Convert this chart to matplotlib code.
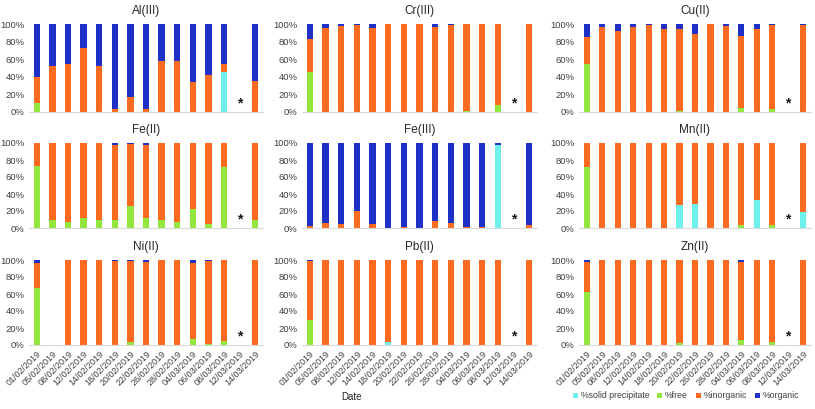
import numpy as np
import matplotlib
matplotlib.use("Agg")
import matplotlib.pyplot as plt

plt.rcParams['font.family'] = ['Liberation Sans', 'DejaVu Sans']

dates = ["01/02/2019", "05/02/2019", "08/02/2019", "12/02/2019", "14/02/2019",
         "18/02/2019", "20/02/2019", "22/02/2019", "26/02/2019", "28/02/2019",
         "04/03/2019", "06/03/2019", "08/03/2019", "12/03/2019", "14/03/2019"]
series_names = ["%solid precipitate", "%free", "%inorganic", "%organic"]
colors = ["#6EF0EC", "#93E63C", "#FF6A21", "#1E30C8"]
nan = np.nan

# Al(III)
al_solid = [0, 0, 0, 0, 0, 0, 0, 0, 0, 0, 0, 0, 46, nan, 0]
al_free = [10, 0, 0, 0, 0, 0, 0, 0, 0, 0, 0, 0, 0, nan, 0]
al_inorg = [30, 52, 54, 73, 52, 3, 17, 3, 58, 58, 34, 42, 9, nan, 35]
al_org = [60, 48, 46, 27, 48, 97, 83, 97, 42, 42, 66, 58, 45, nan, 65]

# Cr(III)
cr_solid = [0, 0, 0, 0, 0, 0, 0, 0, 0, 0, 0, 0, 0, nan, 0]
cr_free = [45, 0, 0, 0, 0, 0, 0, 0, 0, 0, 1, 0, 8, nan, 0]
cr_inorg = [38, 95, 98, 99, 96, 100, 100, 100, 97, 99, 99, 100, 92, nan, 100]
cr_org = [17, 5, 2, 1, 4, 0, 0, 0, 3, 1, 0, 0, 0, nan, 0]

# Cu(II)
cu_solid = [0, 0, 0, 0, 0, 0, 0, 0, 0, 0, 0, 0, 0, nan, 0]
cu_free = [55, 0, 0, 0, 0, 0, 1, 0, 0, 0, 4, 0, 3, nan, 0]
cu_inorg = [30, 97, 92, 97, 99, 94, 93, 89, 99.5, 98, 82, 94, 96, nan, 99]
cu_org = [15, 3, 8, 3, 1, 6, 6, 11, 0.5, 2, 14, 6, 1, nan, 1]

# Fe(II)
fe2_solid = [0, 0, 0, 0, 0, 0, 0, 0, 0, 0, 0, 0, 0, nan, 0]
fe2_free = [73, 10, 7, 12, 9, 9, 26, 12, 9, 7, 22, 5, 72, nan, 9]
fe2_inorg = [27, 90, 93, 88, 91, 89, 73, 86, 91, 93, 77.5, 95, 28, nan, 91]
fe2_org = [0, 0, 0, 0, 0, 2, 1, 2, 0, 0, 0.5, 0, 0, nan, 0]

# Fe(III)
fe3_solid = [0, 0, 0, 0, 0, 0, 0, 0, 0, 0, 0, 0, 98, nan, 0]
fe3_free = [0, 0, 0, 0, 0, 0, 0, 0, 0, 0, 0, 0, 0, nan, 0]
fe3_inorg = [2, 6, 5, 20, 5, 0, 1, 0, 8, 6, 1, 1, 0, nan, 3]
fe3_org = [98, 94, 95, 80, 95, 100, 99, 100, 92, 94, 99, 99, 2, nan, 97]

# Mn(II)
mn_solid = [0, 0, 0, 0, 0, 0, 27, 28, 0, 0, 0, 33, 0, nan, 19]
mn_free = [72, 0, 0, 0, 0, 0, 0, 0, 0, 0, 3, 0, 3, nan, 0]
mn_inorg = [28, 100, 100, 100, 100, 100, 73, 72, 100, 100, 97, 67, 97, nan, 81]
mn_org = [0, 0, 0, 0, 0, 0, 0, 0, 0, 0, 0, 0, 0, nan, 0]

# Ni(II)
ni_solid = [0, nan, 0, 0, 0, 0, 0, 0, 0, 0, 0, 0, 0, nan, 0]
ni_free = [67, nan, 0, 0, 0, 0, 3, 0.5, 0, 0, 7, 1, 5, nan, 0]
ni_inorg = [30, nan, 100, 100, 100, 98.5, 95.5, 97.5, 100, 100, 90, 97.5, 95, nan, 100]
ni_org = [3, nan, 0, 0, 0, 1.5, 1.5, 2, 0, 0, 3, 1.5, 0, nan, 0]

# Pb(II)
pb_solid = [0, 0, 0, 0, 0, 3, 0, 0, 0, 0, 0, 0, 0, nan, 0]
pb_free = [30, 0, 0, 0, 0, 0, 0, 0, 0, 0, 0, 0, 0, nan, 0]
pb_inorg = [68.5, 100, 100, 100, 100, 97, 100, 100, 100, 100, 100, 100, 100, nan, 100]
pb_org = [1.5, 0, 0, 0, 0, 0, 0, 0, 0, 0, 0, 0, 0, nan, 0]

# Zn(II)
zn_solid = [0, 0, 0, 0, 0, 0, 0, 0, 0, 0, 0, 0, 0, nan, 0]
zn_free = [62, 0, 0, 0, 0, 0, 2, 0, 0, 0, 6, 0, 4, nan, 0]
zn_inorg = [36, 100, 100, 100, 100, 100, 97.5, 99.5, 100, 100, 92, 99.5, 96, nan, 100]
zn_org = [2, 0, 0, 0, 0, 0, 0.5, 0.5, 0, 0, 2, 0.5, 0, nan, 0]

panels = [
    ("Al(III)", [al_solid, al_free, al_inorg, al_org]),
    ("Cr(III)", [cr_solid, cr_free, cr_inorg, cr_org]),
    ("Cu(II)", [cu_solid, cu_free, cu_inorg, cu_org]),
    ("Fe(II)", [fe2_solid, fe2_free, fe2_inorg, fe2_org]),
    ("Fe(III)", [fe3_solid, fe3_free, fe3_inorg, fe3_org]),
    ("Mn(II)", [mn_solid, mn_free, mn_inorg, mn_org]),
    ("Ni(II)", [ni_solid, ni_free, ni_inorg, ni_org]),
    ("Pb(II)", [pb_solid, pb_free, pb_inorg, pb_org]),
    ("Zn(II)", [zn_solid, zn_free, zn_inorg, zn_org]),
]
missing_index = 13  # 12/03/2019, marked with asterisk

W, H = 815, 409
fig = plt.figure(figsize=(W / 100, H / 100), dpi=100)

col_x = [(29, 263), (302, 537), (579, 811)]
row_y = [(24, 112), (143, 228), (260, 345)]

x = np.arange(len(dates))
tick_color = "#404040"
handles = None
for k, (title, series) in enumerate(panels):
    r, c = divmod(k, 3)
    x0, x1 = col_x[c]
    y0, y1 = row_y[r]
    ax = fig.add_axes([x0 / W, 1 - y1 / H, (x1 - x0) / W, (y1 - y0) / H])
    bottom = np.zeros(len(dates))
    hs = []
    for vals, col, name in zip(series, colors, series_names):
        v = np.array(vals, dtype=float)
        h = ax.bar(x, np.nan_to_num(v), width=0.4, bottom=bottom, color=col,
                   label=name, linewidth=0)
        hs.append(h)
        bottom = bottom + np.nan_to_num(v)
    handles = hs
    ax.text(missing_index, 10, "*", ha="center", va="center", fontsize=10,
            color="#1a1a1a", fontweight="bold")
    ax.set_xlim(-0.5, len(dates) - 0.5)
    ax.set_ylim(0, 100)
    ax.set_yticks([0, 20, 40, 60, 80, 100])
    ax.set_yticklabels([f"{t}%" for t in [0, 20, 40, 60, 80, 100]])
    ax.tick_params(axis="y", length=0, labelsize=6.8, colors=tick_color, pad=3)
    ax.set_xticks(x)
    if r == 2:
        ax.set_xticklabels(dates, rotation=45, ha="right", rotation_mode="anchor",
                           fontsize=6.5, color=tick_color)
    else:
        ax.set_xticklabels([])
    ax.tick_params(axis="x", length=0, pad=3)
    for s in ["top", "right", "left"]:
        ax.spines[s].set_visible(False)
    ax.spines["bottom"].set_color("#d9d9d9")
    ax.spines["bottom"].set_linewidth(0.8)
    ax.set_title(title, fontsize=8.5, color="#262626", pad=7)

fig.text(352 / W, 1 - 397 / H, "Date", ha="center", va="center", fontsize=7,
         color="#262626")
fig.legend(handles, series_names, loc="center", bbox_to_anchor=(686 / W, 1 - 396 / H),
           ncol=4, frameon=False, fontsize=6.3, handlelength=0.6, handleheight=0.6,
           handletextpad=0.3, columnspacing=0.9, labelcolor=tick_color)

fig.savefig("out.png", dpi=100)
